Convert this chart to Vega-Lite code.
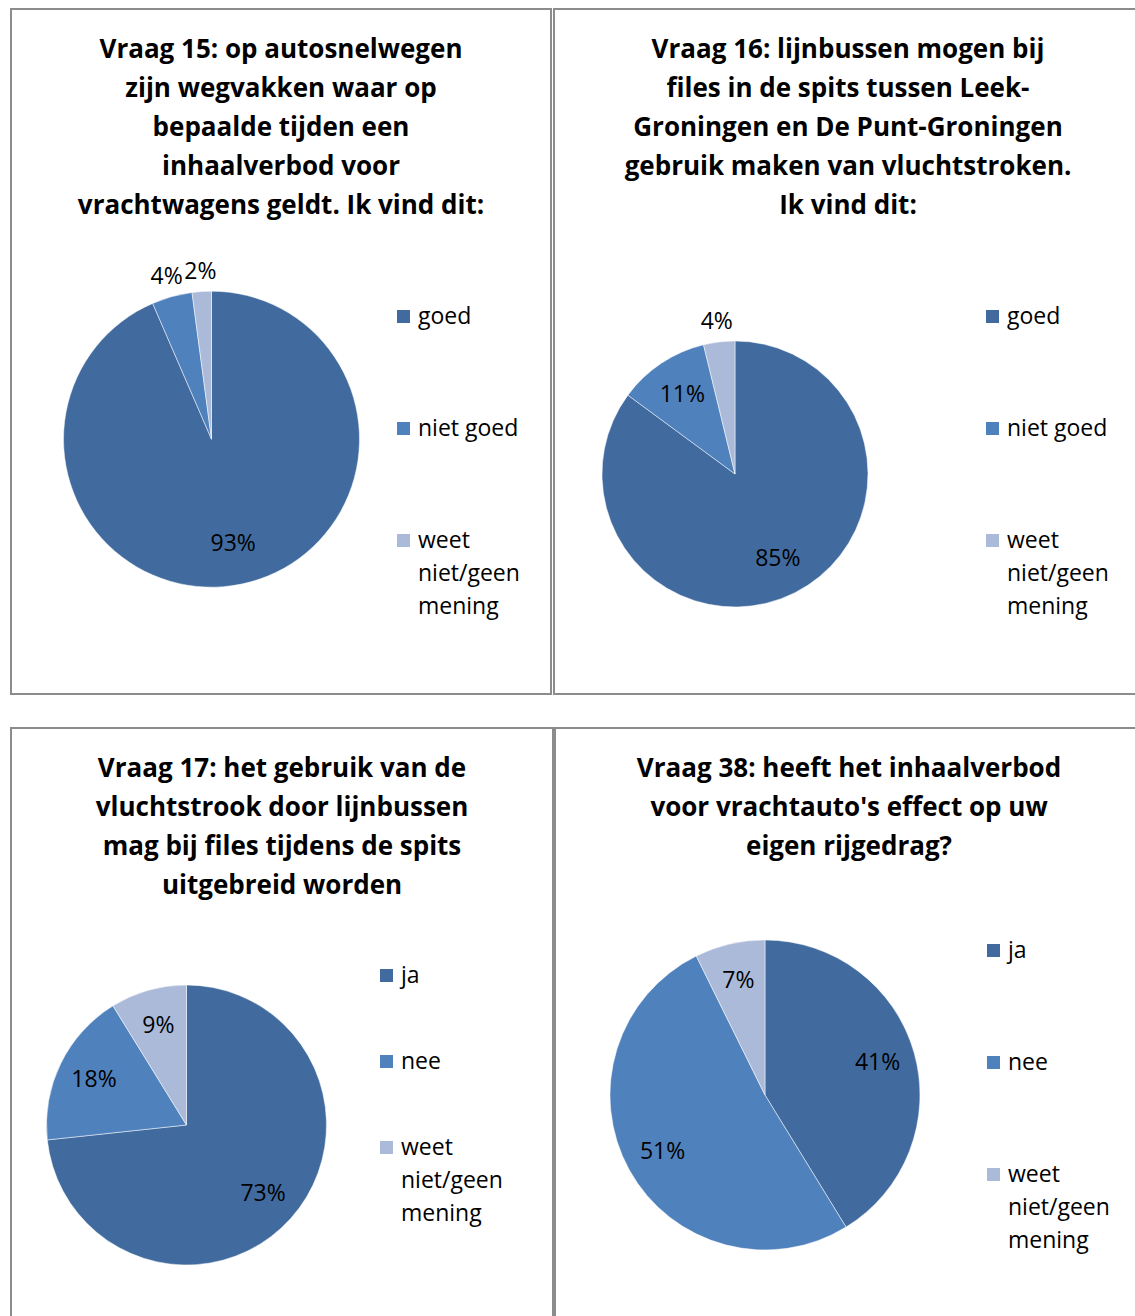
{
  "$schema": "https://vega.github.io/schema/vega-lite/v6.json",
  "background": "white",
  "padding": {"left": 10, "top": 8, "right": 0, "bottom": 0},
  "config": {
    "view": {"stroke": "#8c8c8c", "strokeWidth": 2},
    "font": "Open Sans",
    "title": {"font": "Open Sans", "fontSize": 26, "fontWeight": "bold", "color": "black", "lineHeight": 39, "baseline": "top", "anchor": "middle", "frame": "group"},
    "legend": {"orient": "none", "title": null, "symbolType": "square", "symbolSize": 169, "symbolStrokeWidth": 0, "labelFont": "Open Sans", "labelFontSize": 23, "labelColor": "black", "labelLimit": 0, "padding": 0, "labelOffset": 3, "rowPadding": 88},
    "style": {"guide-label": {"lineHeight": 33}}
  },
  "resolve": {"scale": {"color": "independent", "theta": "independent"}, "legend": {"color": "independent"}},
  "datasets": {
    "q15": [
      {"answer": "goed", "share": 0.934, "order": 1},
      {"answer": "niet goed", "share": 0.044, "order": 2},
      {"answer": "weet niet/geen mening", "share": 0.021, "order": 3}
    ],
    "q16": [
      {"answer": "goed", "share": 0.851, "order": 1},
      {"answer": "niet goed", "share": 0.111, "order": 2},
      {"answer": "weet niet/geen mening", "share": 0.038, "order": 3}
    ],
    "q17": [
      {"answer": "ja", "share": 0.733, "order": 1},
      {"answer": "nee", "share": 0.179, "order": 2},
      {"answer": "weet niet/geen mening", "share": 0.088, "order": 3}
    ],
    "q38": [
      {"answer": "ja", "share": 0.412, "order": 1},
      {"answer": "nee", "share": 0.514, "order": 2},
      {"answer": "weet niet/geen mening", "share": 0.073, "order": 3}
    ]
  },
  "vconcat": [
    {
      "resolve": {"scale": {"color": "independent", "theta": "independent"}, "legend": {"color": "independent"}},
      "hconcat": [
        {
          "width": 540, "height": 685,
          "title": {"text": ["Vraag 15: op autosnelwegen", "zijn wegvakken waar op", "bepaalde tijden een", "inhaalverbod voor", "vrachtwagens geldt. Ik vind dit:"], "offset": -210},
          "data": {"name": "q15"},
          "encoding": {
            "x": {"datum": 0.3713, "type": "quantitative", "scale": {"domain": [0, 1]}, "axis": null},
            "y": {"datum": 0.628, "type": "quantitative", "scale": {"domain": [0, 1], "reverse": true}, "axis": null},
            "theta": {"field": "share", "type": "quantitative", "stack": true},
            "order": {"field": "order", "type": "quantitative"},
            "color": {"field": "answer", "type": "nominal",
              "scale": {"domain": ["goed", "niet goed", "weet niet/geen mening"], "range": ["#416B9F", "#4F81BD", "#AABAD8"]},
              "legend": {"legendX": 381, "legendY": 296, "labelExpr": "datum.label == 'weet niet/geen mening' ? ['weet', 'niet/geen', 'mening'] : datum.label"}}
          },
          "layer": [
            {"mark": {"type": "arc", "outerRadius": 148, "stroke": "white", "strokeWidth": 0.5}},
            {"mark": {"type": "text", "radius": 107, "fontSize": 23, "font": "Open Sans", "align": "center", "baseline": "middle"},
             "encoding": {"color": {"value": "black"}, "detail": {"field": "answer"},
               "text": {"condition": {"test": "datum.share >= 0.05", "field": "share", "type": "quantitative", "format": ".0%"}, "value": ""}}},
            {"mark": {"type": "text", "radius": 168, "fontSize": 23, "font": "Open Sans", "align": "center", "baseline": "middle"},
             "encoding": {"color": {"value": "black"}, "detail": {"field": "answer"},
               "text": {"condition": {"test": "datum.share < 0.05", "field": "share", "type": "quantitative", "format": ".0%"}, "value": ""}}}
          ]
        },
        {
          "width": 588, "height": 685,
          "title": {"text": ["Vraag 16: lijnbussen mogen bij", "files in de spits tussen Leek-", "Groningen en De Punt-Groningen", "gebruik maken van vluchtstroken.", "Ik vind dit:"], "offset": -210},
          "data": {"name": "q16"},
          "encoding": {
            "x": {"datum": 0.3078, "type": "quantitative", "scale": {"domain": [0, 1]}, "axis": null},
            "y": {"datum": 0.6788, "type": "quantitative", "scale": {"domain": [0, 1], "reverse": true}, "axis": null},
            "theta": {"field": "share", "type": "quantitative", "stack": true},
            "order": {"field": "order", "type": "quantitative"},
            "color": {"field": "answer", "type": "nominal",
              "scale": {"domain": ["goed", "niet goed", "weet niet/geen mening"], "range": ["#416B9F", "#4F81BD", "#AABAD8"]},
              "legend": {"legendX": 427, "legendY": 296, "labelExpr": "datum.label == 'weet niet/geen mening' ? ['weet', 'niet/geen', 'mening'] : datum.label"}}
          },
          "layer": [
            {"mark": {"type": "arc", "outerRadius": 133, "stroke": "white", "strokeWidth": 0.5}},
            {"mark": {"type": "text", "radius": 95, "fontSize": 23, "font": "Open Sans", "align": "center", "baseline": "middle"},
             "encoding": {"color": {"value": "black"}, "detail": {"field": "answer"},
               "text": {"condition": {"test": "datum.share >= 0.05", "field": "share", "type": "quantitative", "format": ".0%"}, "value": ""}}},
            {"mark": {"type": "text", "radius": 153, "fontSize": 23, "font": "Open Sans", "align": "center", "baseline": "middle"},
             "encoding": {"color": {"value": "black"}, "detail": {"field": "answer"},
               "text": {"condition": {"test": "datum.share < 0.05", "field": "share", "type": "quantitative", "format": ".0%"}, "value": ""}}}
          ]
        }
      ],
      "spacing": 1
    },
    {
      "resolve": {"scale": {"color": "independent", "theta": "independent"}, "legend": {"color": "independent"}},
      "hconcat": [
        {
          "width": 542, "height": 592,
          "title": {"text": ["Vraag 17: het gebruik van de", "vluchtstrook door lijnbussen", "mag bij files tijdens de spits", "uitgebreid worden"], "offset": -171},
          "data": {"name": "q17"},
          "encoding": {
            "x": {"datum": 0.3238, "type": "quantitative", "scale": {"domain": [0, 1]}, "axis": null},
            "y": {"datum": 0.6706, "type": "quantitative", "scale": {"domain": [0, 1], "reverse": true}, "axis": null},
            "theta": {"field": "share", "type": "quantitative", "stack": true},
            "order": {"field": "order", "type": "quantitative"},
            "color": {"field": "answer", "type": "nominal",
              "scale": {"domain": ["ja", "nee", "weet niet/geen mening"], "range": ["#416B9F", "#4F81BD", "#AABAD8"]},
              "legend": {"legendX": 364, "legendY": 236, "rowPadding": 62, "labelExpr": "datum.label == 'weet niet/geen mening' ? ['weet', 'niet/geen', 'mening'] : datum.label"}}
          },
          "layer": [
            {"mark": {"type": "arc", "outerRadius": 140, "stroke": "white", "strokeWidth": 0.5}},
            {"mark": {"type": "text", "radius": 103, "fontSize": 23, "font": "Open Sans", "align": "center", "baseline": "middle"},
             "encoding": {"color": {"value": "black"}, "detail": {"field": "answer"},
               "text": {"field": "share", "type": "quantitative", "format": ".0%"}}}
          ]
        },
        {
          "width": 588, "height": 592,
          "title": {"text": ["Vraag 38: heeft het inhaalverbod", "voor vrachtauto's effect op uw", "eigen rijgedrag?"], "offset": -132},
          "data": {"name": "q38"},
          "encoding": {
            "x": {"datum": 0.3571, "type": "quantitative", "scale": {"domain": [0, 1]}, "axis": null},
            "y": {"datum": 0.6199, "type": "quantitative", "scale": {"domain": [0, 1], "reverse": true}, "axis": null},
            "theta": {"field": "share", "type": "quantitative", "stack": true},
            "order": {"field": "order", "type": "quantitative"},
            "color": {"field": "answer", "type": "nominal",
              "scale": {"domain": ["ja", "nee", "weet niet/geen mening"], "range": ["#416B9F", "#4F81BD", "#AABAD8"]},
              "legend": {"legendX": 427, "legendY": 211, "labelExpr": "datum.label == 'weet niet/geen mening' ? ['weet', 'niet/geen', 'mening'] : datum.label"}}
          },
          "layer": [
            {"mark": {"type": "arc", "outerRadius": 155, "stroke": "white", "strokeWidth": 0.5}},
            {"mark": {"type": "text", "radius": 117, "fontSize": 23, "font": "Open Sans", "align": "center", "baseline": "middle"},
             "encoding": {"color": {"value": "black"}, "detail": {"field": "answer"},
               "text": {"field": "share", "type": "quantitative", "format": ".0%"}}}
          ]
        }
      ],
      "spacing": 0
    }
  ],
  "spacing": 32
}
